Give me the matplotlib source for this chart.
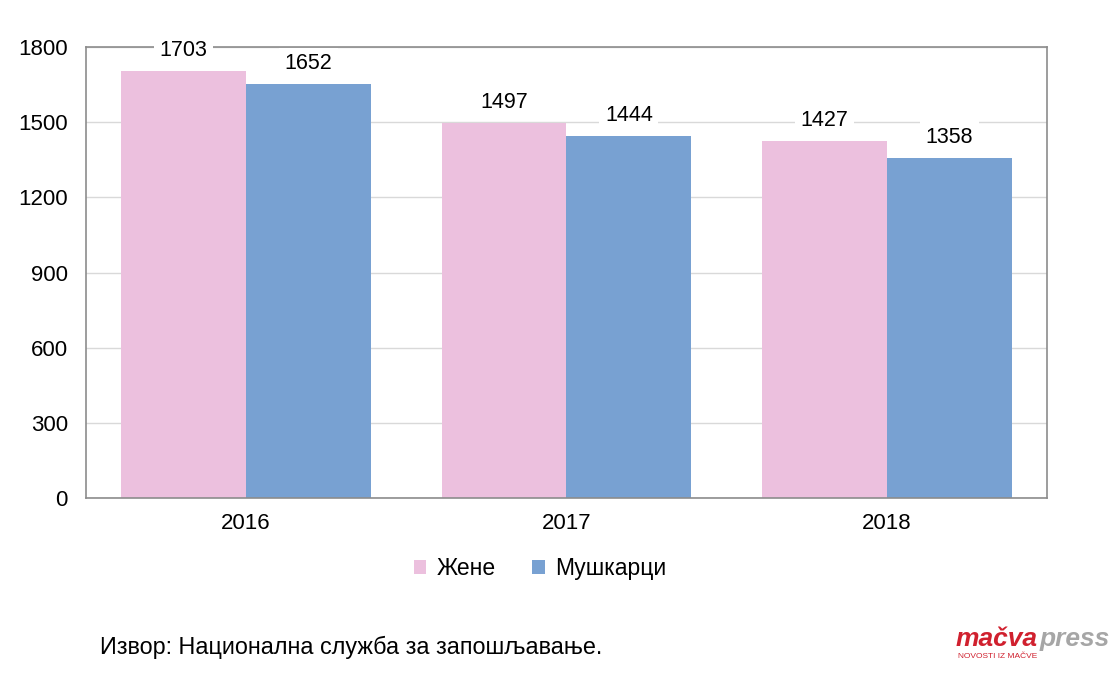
import matplotlib.pyplot as plt
import numpy as np

plt.rcParams['font.family'] = ['Liberation Sans', 'DejaVu Sans']

years = ['2016', '2017', '2018']
zene = [1703, 1497, 1427]
muskarci = [1652, 1444, 1358]
series_names = ['Жене', 'Мушкарци']
pink = '#ecc0de'
blue = '#78a1d2'

fig = plt.figure(figsize=(11.18, 6.73), dpi=100)
ax = fig.add_axes([0.0769, 0.26, 0.8596, 0.670])

x = np.arange(len(years))
w = 0.39
b1 = ax.bar(x - w / 2, zene, w, color=pink, label=series_names[0], zorder=2)
b2 = ax.bar(x + w / 2, muskarci, w, color=blue, label=series_names[1], zorder=2)

# value labels on white boxes
for bars in (b1, b2):
    for r in bars:
        ax.text(r.get_x() + r.get_width() / 2, r.get_height() + 82, str(int(r.get_height())),
                ha='center', va='center', fontsize=15.5, zorder=4,
                bbox=dict(facecolor='white', edgecolor='none', pad=4))

ax.set_xlim(-0.5, 2.5)
ax.set_ylim(0, 1800)
ax.set_yticks(range(0, 1801, 300))
ax.set_xticks(x)
ax.set_xticklabels(years)
ax.tick_params(axis='both', length=0, labelsize=16)
ax.tick_params(axis='x', pad=11)
ax.tick_params(axis='y', pad=13)
ax.grid(axis='y', color='#d9d9d9', linewidth=1, zorder=0)
for s in ax.spines.values():
    s.set_color('#8c8c8c')
    s.set_linewidth(1.2)

fig.legend(loc='center', bbox_to_anchor=(0.483, 0.155), ncol=2, frameon=False,
           fontsize=16.5, handlelength=0.55, handleheight=0.55, columnspacing=1.6,
           handletextpad=0.45)

fig.text(0.089, 0.038, 'Извор: Национална служба за запошљавање.', fontsize=16.8,
         ha='left', va='center')

# logo
t1 = fig.text(0.855, 0.05, 'mačva', fontsize=19, fontweight='bold', fontstyle='italic',
              color='#d0202e', ha='left', va='center')
ax.annotate('press', xy=(1, 0.5), xycoords=t1, xytext=(1, 0), textcoords='offset points',
            fontsize=19, fontweight='bold', fontstyle='italic', color='#a6a6a6',
            ha='left', va='center', annotation_clip=False)
fig.text(0.857, 0.024, 'NOVOSTI IZ MAČVE', fontsize=6, color='#d0202e',
         ha='left', va='center')

fig.savefig('out.png', dpi=100)
